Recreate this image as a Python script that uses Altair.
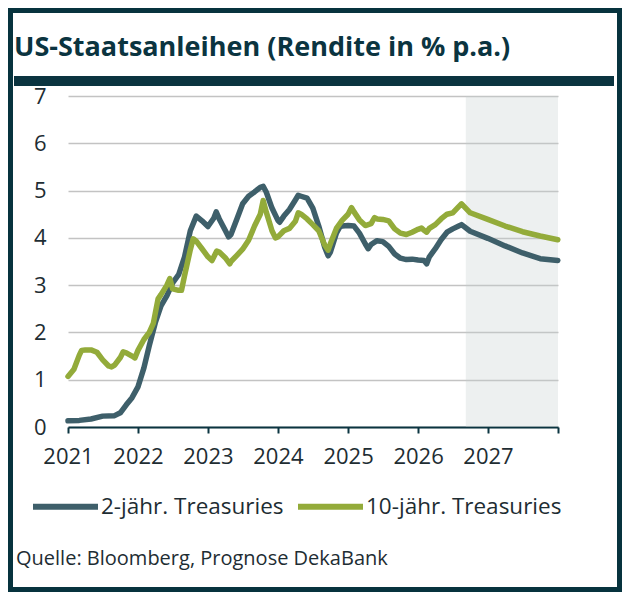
import altair as alt
import pandas as pd

# Rendite in % p.a., Lesewerte aus der Grafik
dates_2y = [
    "2021-01-01", "2021-03-01", "2021-05-01", "2021-07-01", "2021-09-01", "2021-10-01",
    "2021-11-01", "2021-12-01", "2022-01-01", "2022-02-01", "2022-03-01", "2022-04-01",
    "2022-05-01", "2022-06-01", "2022-07-01", "2022-08-01", "2022-09-01", "2022-10-01",
    "2022-11-01", "2022-12-01", "2023-01-01", "2023-02-01", "2023-02-13", "2023-03-01",
    "2023-04-01", "2023-04-19", "2023-05-01", "2023-06-01", "2023-07-01", "2023-08-01",
    "2023-09-01", "2023-10-01", "2023-10-16", "2023-11-01", "2023-12-01", "2024-01-01",
    "2024-01-10", "2024-02-01", "2024-03-01", "2024-04-01", "2024-04-16", "2024-05-01",
    "2024-06-01", "2024-07-01", "2024-08-01", "2024-09-01", "2024-09-19", "2024-10-01",
    "2024-11-01", "2024-11-19", "2024-12-01", "2025-01-01", "2025-02-01", "2025-03-01",
    "2025-04-01", "2025-04-16", "2025-05-01", "2025-06-01", "2025-07-01", "2025-08-01",
    "2025-09-01", "2025-10-01", "2025-11-01", "2025-12-01", "2026-01-01", "2026-02-01",
    "2026-02-15", "2026-03-01", "2026-04-01", "2026-05-01", "2026-06-01", "2026-07-01",
    "2026-08-01", "2026-08-16", "2026-09-30", "2026-12-31", "2027-03-31", "2027-06-30",
    "2027-09-30", "2027-12-31",
]
yield_2y = [
    0.13, 0.14, 0.17, 0.23, 0.24, 0.30,
    0.47, 0.62, 0.85, 1.25, 1.72, 2.20,
    2.56, 2.78, 3.05, 3.22, 3.60, 4.15,
    4.46, 4.36, 4.24, 4.42, 4.55, 4.40,
    4.16, 4.02, 4.07, 4.40, 4.72, 4.88,
    4.97, 5.07, 5.09, 4.97, 4.63, 4.37,
    4.33, 4.46, 4.60, 4.80, 4.90, 4.88,
    4.84, 4.63, 4.25, 3.80, 3.62, 3.70,
    4.10, 4.23, 4.25, 4.26, 4.25, 4.10,
    3.87, 3.77, 3.86, 3.94, 3.92, 3.82,
    3.66, 3.57, 3.54, 3.55, 3.53, 3.52,
    3.45, 3.60, 3.77, 3.96, 4.12, 4.19,
    4.25, 4.28, 4.14, 3.99, 3.83, 3.68,
    3.56, 3.52,
]

dates_10y = [
    "2021-01-01", "2021-02-01", "2021-03-01", "2021-03-13", "2021-04-01", "2021-05-01",
    "2021-06-01", "2021-07-01", "2021-08-01", "2021-08-16", "2021-09-01", "2021-10-01",
    "2021-10-16", "2021-11-01", "2021-12-01", "2021-12-16", "2022-01-01", "2022-02-01",
    "2022-03-01", "2022-03-22", "2022-04-01", "2022-04-16", "2022-05-01", "2022-06-01",
    "2022-06-16", "2022-07-01", "2022-08-01", "2022-08-16", "2022-09-01", "2022-10-01",
    "2022-10-16", "2022-11-01", "2022-12-01", "2023-01-01", "2023-01-22", "2023-02-01",
    "2023-02-16", "2023-03-01", "2023-04-01", "2023-04-25", "2023-05-01", "2023-06-01",
    "2023-07-01", "2023-08-01", "2023-09-01", "2023-10-01", "2023-10-16", "2023-11-01",
    "2023-12-01", "2023-12-19", "2024-01-01", "2024-02-01", "2024-03-01", "2024-04-01",
    "2024-04-16", "2024-05-01", "2024-06-01", "2024-07-01", "2024-08-01", "2024-09-01",
    "2024-09-19", "2024-10-01", "2024-11-01", "2024-12-01", "2025-01-01", "2025-01-19",
    "2025-02-01", "2025-03-01", "2025-04-01", "2025-05-01", "2025-05-19", "2025-06-01",
    "2025-07-01", "2025-08-01", "2025-09-01", "2025-10-01", "2025-11-01", "2025-12-01",
    "2026-01-01", "2026-01-19", "2026-02-01", "2026-02-15", "2026-03-01", "2026-04-01",
    "2026-05-01", "2026-06-01", "2026-07-01", "2026-08-01", "2026-08-16", "2026-09-30",
    "2026-12-31", "2027-03-31", "2027-06-30", "2027-09-30", "2027-12-31",
]
yield_10y = [
    1.07, 1.22, 1.52, 1.62, 1.63, 1.63,
    1.58, 1.42, 1.29, 1.27, 1.31, 1.47,
    1.59, 1.57, 1.50, 1.46, 1.62, 1.85,
    2.00, 2.19, 2.40, 2.71, 2.80, 3.00,
    3.14, 2.92, 2.89, 2.89, 3.20, 3.75,
    3.98, 3.93, 3.77, 3.60, 3.52, 3.60,
    3.72, 3.70, 3.58, 3.45, 3.50, 3.63,
    3.76, 3.95, 4.25, 4.50, 4.79, 4.55,
    4.15, 4.00, 4.02, 4.15, 4.20, 4.35,
    4.53, 4.50, 4.40, 4.28, 4.15, 3.85,
    3.74, 3.88, 4.20, 4.37, 4.50, 4.64,
    4.55, 4.38, 4.26, 4.30, 4.43, 4.40,
    4.39, 4.36, 4.19, 4.10, 4.07, 4.12,
    4.18, 4.21, 4.16, 4.12, 4.20, 4.28,
    4.40, 4.50, 4.53, 4.66, 4.72, 4.53,
    4.39, 4.25, 4.13, 4.04, 3.96,
]

series_names = ["2-jähr. Treasuries", "10-jähr. Treasuries"]
series_colors = ["#3e5f6a", "#93ab3a"]
forecast_start = "2026-09-07"
forecast_end = "2028-01-01"
y_ticks = [0, 1, 2, 3, 4, 5, 6, 7]
x_years = [2021, 2022, 2023, 2024, 2025, 2026, 2027, 2028]

title_text = "US-Staatsanleihen (Rendite in % p.a.)"
source_text = "Quelle: Bloomberg, Prognose DekaBank"

dark = "#0b3440"
text_col = "#1e2d33"
font = "Open Sans"

df = pd.concat([
    pd.DataFrame({"date": dates_2y, "value": yield_2y, "series": series_names[0]}),
    pd.DataFrame({"date": dates_10y, "value": yield_10y, "series": series_names[1]}),
])

x_scale = alt.Scale(type="utc", domain=[alt.DateTime(year=2021, month=1, date=1, utc=True),
                                        alt.DateTime(year=2028, month=1, date=1, utc=True)])

# Prognosezeitraum grau hinterlegt
shade = alt.Chart(pd.DataFrame({"start": [forecast_start], "end": [forecast_end]})).mark_rect(
    color="#c5cccc", opacity=0.3
).encode(
    x=alt.X("start:T", scale=x_scale),
    x2="end:T",
)

lines = alt.Chart(df).mark_line(strokeWidth=5.5, strokeJoin="round", strokeCap="round").encode(
    x=alt.X("date:T", scale=x_scale, title=None,
            axis=alt.Axis(values=[alt.DateTime(year=y, month=1, date=1, utc=True) for y in x_years],
                          labelExpr="utcyear(datum.value) < 2028 ? utcFormat(datum.value, '%Y') : ''",
                          labelOverlap=False, labelFlush=False, grid=False, domainColor=dark,
                          domainWidth=2, tickColor=dark, tickWidth=2, tickSize=6, labelPadding=13,
                          labelFontSize=22, labelFont=font, labelColor=text_col)),
    y=alt.Y("value:Q", scale=alt.Scale(domain=[0, 7]), title=None,
            axis=alt.Axis(values=y_ticks, grid=True, gridColor="#c3c3c3", gridWidth=1.5,
                          domain=False, ticks=False, labelPadding=22, labelFontSize=22,
                          labelFont=font, labelColor=text_col)),
    color=alt.Color("series:N", sort=series_names, title=None,
                    scale=alt.Scale(domain=series_names, range=series_colors),
                    legend=alt.Legend(orient="none", direction="horizontal", legendX=-38,
                                      legendY=375, symbolType="stroke", symbolSize=4225,
                                      symbolStrokeWidth=6, labelFontSize=22.5, labelFont=font,
                                      labelColor=text_col, labelOffset=0, columnPadding=2,
                                      labelLimit=400, padding=0)),
)

# Titel und dunkler Balken darunter
title = alt.Chart(pd.DataFrame({"t": [title_text]})).mark_text(
    align="left", baseline="alphabetic", fontSize=27, fontWeight="bold", font=font, color=dark
).encode(x=alt.value(-54), y=alt.value(-40), text="t:N")

bar = alt.Chart(pd.DataFrame({"a": [0]})).mark_rect(color=dark).encode(
    x=alt.value(-54), x2=alt.value(546), y=alt.value(-20), y2=alt.value(-10)
)

source = alt.Chart(pd.DataFrame({"t": [source_text]})).mark_text(
    align="left", baseline="alphabetic", fontSize=20, font=font, color=text_col
).encode(x=alt.value(-52), y=alt.value(469), text="t:N")

frame = alt.Chart(pd.DataFrame({"a": [0]})).mark_rect(filled=False, stroke="#07333e", strokeWidth=5).encode(
    x=alt.value(-57.5), x2=alt.value(551.5), y=alt.value(-85.5), y2=alt.value(493.5)
)

chart = alt.layer(shade, lines, title, bar, source, frame).properties(
    width=490,
    height=331,
    padding={"left": 60, "top": 88, "right": 64, "bottom": 165},
    autosize=alt.AutoSizeParams(type="none"),
).configure_view(stroke="transparent")

chart.save("out.html", embed_options={"renderer": "svg", "actions": False})
